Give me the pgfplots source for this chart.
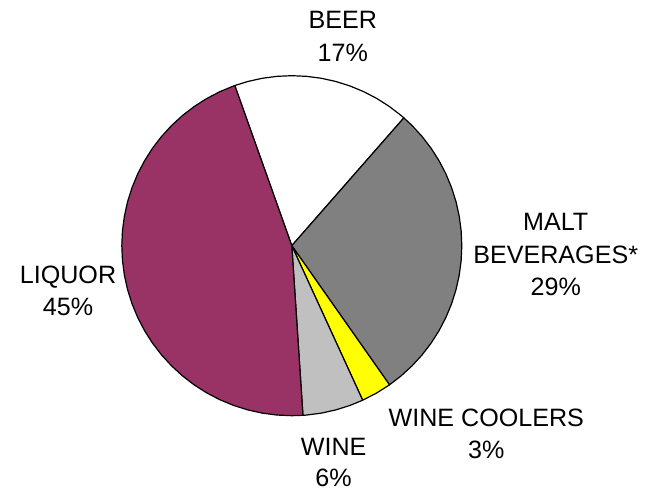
\documentclass[border=0pt]{standalone}
\usepackage{pgfplots}
\pgfplotsset{compat=1.18}
\usepackage{fontspec}
\setmainfont{Liberation Sans}
\definecolor{liquor}{HTML}{993366}
\definecolor{malt}{HTML}{808080}
\definecolor{cooler}{HTML}{FFFF00}
\definecolor{wine}{HTML}{C0C0C0}
\begin{document}
\begin{tikzpicture}[lbl/.style={font=\fontsize{25.2}{32}\selectfont, anchor=base, inner sep=0pt}]
\begin{axis}[
  scale only axis, width=647bp, height=492bp,
  xmin=-291.8, xmax=355.2, ymin=-246.3, ymax=245.7,
  hide axis, clip=false,
]
\path (rel axis cs:0,0) rectangle (rel axis cs:1,1);
% BEER 16.9%
\addplot[data cs=polar, fill=white, draw=black, line width=1.2bp, line join=round] coordinates {
 (0,0) (109.6,170) (105,170) (100,170) (95,170) (90,170) (85,170) (80,170) (75,170) (70,170) (65,170) (60,170) (55,170) (50,170) (48.76,170)
} -- cycle;
% MALT BEVERAGES 28.8%
\addplot[data cs=polar, fill=malt, draw=black, line width=1.2bp, line join=round] coordinates {
 (0,0) (48.76,170) (45,170) (40,170) (35,170) (30,170) (25,170) (20,170) (15,170) (10,170) (5,170) (0,170) (-5,170) (-10,170) (-15,170) (-20,170) (-25,170) (-30,170) (-35,170) (-40,170) (-45,170) (-50,170) (-54.92,170)
} -- cycle;
% WINE COOLERS 2.9%
\addplot[data cs=polar, fill=cooler, draw=black, line width=1.2bp, line join=round] coordinates {
 (0,0) (-54.92,170) (-60,170) (-65.36,170)
} -- cycle;
% WINE 5.8%
\addplot[data cs=polar, fill=wine, draw=black, line width=1.2bp, line join=round] coordinates {
 (0,0) (-65.36,170) (-70,170) (-75,170) (-80,170) (-85,170) (-86.24,170)
} -- cycle;
% LIQUOR 45.6%
\addplot[data cs=polar, fill=liquor, draw=black, line width=1.2bp, line join=round] coordinates {
 (0,0) (-86.24,170) (-90,170) (-95,170) (-100,170) (-105,170) (-110,170) (-115,170) (-120,170) (-125,170) (-130,170) (-135,170) (-140,170) (-145,170) (-150,170) (-155,170) (-160,170) (-165,170) (-170,170) (-175,170) (-180,170) (-185,170) (-190,170) (-195,170) (-200,170) (-205,170) (-210,170) (-215,170) (-220,170) (-225,170) (-230,170) (-235,170) (-240,170) (-245,170) (-250,170) (-250.4,170)
} -- cycle;
\node[lbl] at (axis cs:51,216.7) {BEER};
\node[lbl] at (axis cs:51,184) {17\%};
\node[lbl] at (axis cs:263.9,15) {MALT};
\node[lbl] at (axis cs:263.9,-17.5) {BEVERAGES*};
\node[lbl] at (axis cs:263.9,-50) {29\%};
\node[lbl] at (axis cs:-223.8,-37.8) {LIQUOR};
\node[lbl] at (axis cs:-223.8,-70.3) {45\%};
\node[lbl] at (axis cs:194.5,-181) {WINE COOLERS};
\node[lbl] at (axis cs:194.5,-213.3) {3\%};
\node[lbl] at (axis cs:41.8,-209.5) {WINE};
\node[lbl] at (axis cs:41.8,-240.5) {6\%};
\end{axis}
\end{tikzpicture}
\end{document}
